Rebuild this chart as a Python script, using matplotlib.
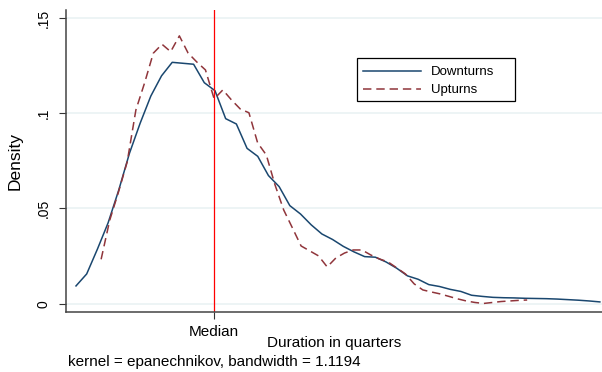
import numpy as np
import matplotlib
matplotlib.use("Agg")
import matplotlib.pyplot as plt
from matplotlib.patches import Rectangle

plt.rcParams['font.family'] = ['Liberation Sans', 'DejaVu Sans']

# kernel density estimates, evaluated on 50 evenly spaced points (Stata kdensity)
down_start, down_stop = 1.0, 50.0
up_start, up_stop = 3.35, 43.2
downturns = [0.0093, 0.0156, 0.0286, 0.0424, 0.0597, 0.0790, 0.0948, 0.1091, 0.1197, 0.1268,
             0.1263, 0.1258, 0.1161, 0.1119, 0.0972, 0.0944, 0.0816, 0.0774, 0.0673, 0.0615,
             0.0515, 0.0471, 0.0414, 0.0366, 0.0337, 0.0301, 0.0272, 0.0247, 0.0244, 0.0219,
             0.0186, 0.0146, 0.0128, 0.0100, 0.0090, 0.0075, 0.0064, 0.0044, 0.0038, 0.0033,
             0.0031, 0.0030, 0.0028, 0.0027, 0.0026, 0.0024, 0.0021, 0.0018, 0.0014, 0.0009]
upturns = [0.0233, 0.0440, 0.0587, 0.0745, 0.1018, 0.1160, 0.1316, 0.1363, 0.1324, 0.1407,
           0.1317, 0.1270, 0.1228, 0.1076, 0.1123, 0.1070, 0.1023, 0.1003, 0.0845, 0.0781,
           0.0624, 0.0492, 0.0398, 0.0303, 0.0277, 0.0251, 0.0193, 0.0240, 0.0266, 0.0282,
           0.0282, 0.0256, 0.0235, 0.0219, 0.0188, 0.0156, 0.0104, 0.0072, 0.0061, 0.0051,
           0.0038, 0.0025, 0.0014, 0.0006, 0.0001, 0.0006, 0.0011, 0.0014, 0.0017, 0.0019]
median = 13.9
yticks = [0, 0.05, 0.1, 0.15]
ytick_labels = ["0", ".05", ".1", ".15"]

x_down = np.linspace(down_start, down_stop, len(downturns))
x_up = np.linspace(up_start, up_stop, len(upturns))

fig = plt.figure(figsize=(6.02, 3.72), dpi=100)
ax = fig.add_axes([66/602, 1 - 312/372, 536/602, 302/372])

for y in yticks:
    ax.axhline(y, color='#eaf2f3', lw=1.2, zorder=0)

ax.plot(x_down, downturns, color='#1a476f', lw=1.1, label='Downturns')
ax.plot(x_up, upturns, color='#90353b', lw=1.1, dashes=(5.5, 3.2), label='Upturns')
ax.axvline(median, color='#ff0000', lw=0.9)

ax.set_xlim(0.065, 50.2)
ax.set_ylim(-0.0044, 0.1543)

ax.set_yticks(yticks)
ax.set_yticklabels(ytick_labels, rotation=90, va='center', fontsize=10)
ax.set_xticks([median])
ax.set_xticklabels(['Median'], fontsize=11)
ax.tick_params(axis='both', direction='out', length=5, width=0.8, color='#333333', pad=4)
ax.tick_params(axis='y', pad=6)

for s in ['top', 'right']:
    ax.spines[s].set_visible(False)
for s in ['left', 'bottom']:
    ax.spines[s].set_color('#444444')
    ax.spines[s].set_linewidth(1.1)

ax.set_ylabel('Density', fontsize=12.5, labelpad=10)
ax.set_xlabel('Duration in quarters', fontsize=11, labelpad=-2)

# legend box drawn separately so it can be wider than its content, like Stata's
ax.add_patch(Rectangle((0.5424, 0.6997), 0.2953, 0.1424, transform=ax.transAxes,
                       fill=True, facecolor='white', edgecolor='black', lw=0.9, zorder=4))
leg = ax.legend(loc='upper left', bbox_to_anchor=(0.5541, 0.8145), borderaxespad=0,
                fontsize=9.5, handlelength=4.4, handletextpad=0.75, labelspacing=0.45,
                borderpad=0, frameon=False)
leg.set_zorder(5)

fig.text(68/602, 1 - 366/372, 'kernel = epanechnikov, bandwidth = 1.1194', fontsize=11,
         va='baseline', ha='left')

fig.savefig('out.png', dpi=100)
